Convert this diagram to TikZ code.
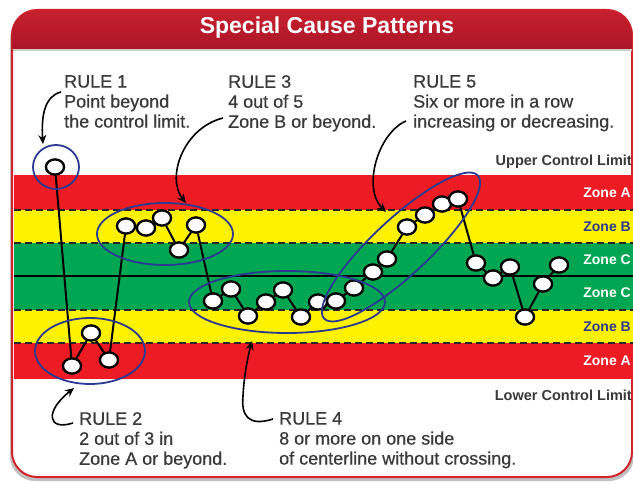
\documentclass[tikz,border=0pt]{standalone}
\usepackage{fontspec}
\setmainfont{Liberation Sans}
\newfontfamily\rulefont[FakeBold=0.6]{Liberation Sans}
\usetikzlibrary{shapes.geometric,arrows.meta}
\definecolor{zred}{HTML}{ED1C24}
\definecolor{zyellow}{HTML}{FFF200}
\definecolor{zgreen}{HTML}{00A651}
\definecolor{zblue}{HTML}{2B3990}
\definecolor{framered}{HTML}{D2232A}
\definecolor{hdtop}{HTML}{C8202F}
\definecolor{hdbot}{HTML}{8A0B1F}
\definecolor{txtgray}{HTML}{3A3A3A}
\begin{document}
\begin{tikzpicture}[x=1pt,y=-1pt,
  pt/.style={ellipse,draw=black,fill=white,line width=2.2pt,minimum width=18pt,minimum height=15pt,inner sep=0pt},
  ring/.style={ellipse,draw=zblue,line width=1.8pt,inner sep=0pt},
  link/.style={draw=black,line width=2pt},
  arr/.style={draw=black,line width=1.6pt,-{Stealth[length=9pt,width=8pt]}},
  ruletxt/.style={anchor=north west,inner sep=0pt,align=left,text=txtgray,font=\rulefont\fontsize{18}{20}\selectfont},
  zonelbl/.style={anchor=east,inner sep=0pt,font=\bfseries\fontsize{14}{16}\selectfont},
  limit/.style={anchor=east,inner sep=0pt,text=txtgray,font=\bfseries\fontsize{14.5}{16}\selectfont},
  zdash/.style={draw=black!85,line width=1.2pt,dash pattern=on 7pt off 4pt}
]
\useasboundingbox (0,0) rectangle (633,484);
% shadow and frame
\fill[black!25,rounded corners=25pt] (10,14) rectangle (634,481);
\fill[white,draw=framered,line width=2pt,rounded corners=25pt] (12,10) rectangle (632,477);
% header
\begin{scope}
  \clip (0,0) rectangle (633,49);
  \shade[top color=hdtop,bottom color=hdbot,rounded corners=25pt] (12,10) rectangle (632,90);
\end{scope}
\fill[black!20] (13,49) rectangle (632,51);
\node[text=white,font=\bfseries\fontsize{23}{26}\selectfont] (title) at (327,28) {Special Cause Patterns};
% bands
\fill[zred] (14,175) rectangle (633,210);
\fill[zyellow] (14,210) rectangle (633,243);
\fill[zgreen] (14,243) rectangle (633,310);
\fill[zyellow] (14,310) rectangle (633,343);
\fill[zred] (14,343) rectangle (633,379);
\draw[zdash] (14,210) -- (633,210);
\draw[zdash] (14,243) -- (633,243);
\draw[zdash] (14,310) -- (633,310);
\draw[zdash] (14,343) -- (633,343);
\draw[black,line width=2pt] (14,276.5) -- (633,276.5);
% labels
\node[limit] (ucl) at (632,162) {Upper Control Limit};
\node[limit] (lcl) at (632,395) {Lower Control Limit};
\node[zonelbl,text=white] (za1) at (631,193) {Zone A};
\node[zonelbl,text=zblue] (zb1) at (631,227) {Zone B};
\node[zonelbl,text=white] (zc1) at (631,260) {Zone C};
\node[zonelbl,text=white] (zc2) at (631,293) {Zone C};
\node[zonelbl,text=zblue] (zb2) at (631,327) {Zone B};
\node[zonelbl,text=white] (za2) at (631,361) {Zone A};
% points
\foreach \i/\x/\y in {1/55/167,2/72/366,3/91/333,4/109/360,5/126/226,6/146/228,7/162/218,8/179/250,9/196/225,10/213/301,11/231/289,12/248/316,13/266/302,14/283/290,15/301/317,16/318/302,17/336/301,18/354/288,19/373/272,20/387/259,21/407/227,22/425/215,23/442/204,24/458/199,25/476/263,26/493/278,27/510/267,28/525/317,29/543/284,30/559/265}
  \node[pt] (p\i) at (\x,\y) {};
% connectors (drawn then points redrawn on top)
\foreach \a/\b in {1/2,2/3,3/4,4/5,5/6,6/7,7/8,8/9,9/10,10/11,11/12,12/13,13/14,14/15,15/16,16/17,17/18,18/19,19/20,20/21,21/22,22/23,23/24,24/25,25/26,26/27,27/28,28/29,29/30}
  \draw[link] (p\a) -- (p\b);
\foreach \i/\x/\y in {1/55/167,2/72/366,3/91/333,4/109/360,5/126/226,6/146/228,7/162/218,8/179/250,9/196/225,10/213/301,11/231/289,12/248/316,13/266/302,14/283/290,15/301/317,16/318/302,17/336/301,18/354/288,19/373/272,20/387/259,21/407/227,22/425/215,23/442/204,24/458/199,25/476/263,26/493/278,27/510/267,28/525/317,29/543/284,30/559/265}
  \node[pt] at (\x,\y) {};
% rule rings
\node[ring,minimum width=46pt,minimum height=44pt] (r1) at (56,167) {};
\node[ring,minimum width=110pt,minimum height=66pt] (r2) at (90,351) {};
\node[ring,minimum width=136pt,minimum height=62pt] (r3) at (165,234) {};
\node[ring,minimum width=196pt,minimum height=62pt] (r4) at (287,302) {};
\node[ring,minimum width=210pt,minimum height=56pt,rotate=43] (r5) at (401,247) {};
% rule texts
\node[ruletxt] (t1) at (64,75) {RULE 1\\Point beyond\\the control limit.};
\node[ruletxt] (t3) at (228,75) {RULE 3\\4 out of 5\\Zone B or beyond.};
\node[ruletxt] (t5) at (413,75) {RULE 5\\Six or more in a row\\increasing or decreasing.};
\node[ruletxt] (t2) at (79,412) {RULE 2\\2 out of 3 in\\Zone A or beyond.};
\node[ruletxt] (t4) at (279,412) {RULE 4\\8 or more on one side\\of centerline without crossing.};
% arrows
\coordinate (a1s) at (61,92);
\coordinate (a1e) at (43,144);
\coordinate (a3s) at (223,118);
\coordinate (a3e) at (186,203);
\coordinate (a5s) at (406,121);
\coordinate (a5e) at (386,212);
\coordinate (a2s) at (73,423);
\coordinate (a2e) at (74,388);
\coordinate (a4s) at (273,419);
\coordinate (a4e) at (252,341);
\draw[arr] (a1s) .. controls (45,96) and (41,115) .. (a1e);
\draw[arr] (a3s) .. controls (183,128) and (166,178) .. (a3e);
\draw[arr] (a5s) .. controls (378,133) and (362,188) .. (a5e);
\draw[arr] (a2s) .. controls (48,431) and (44,412) .. (a2e);
\draw[arr] (a4s) .. controls (248,427) and (241,415) .. (243,396) .. controls (244,375) and (248,356) .. (a4e);
\end{tikzpicture}
\end{document}
